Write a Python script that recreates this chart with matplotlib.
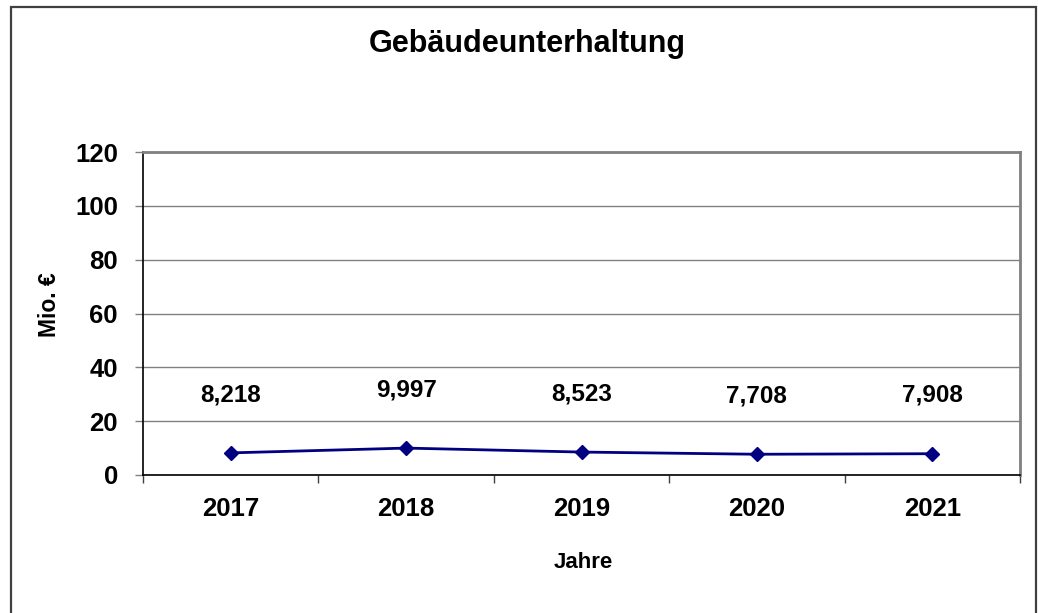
import matplotlib.pyplot as plt
from matplotlib.patches import Rectangle

# data
jahre = ['2017', '2018', '2019', '2020', '2021']
werte = [8.218, 9.997, 8.523, 7.708, 7.908]
werte_text = ['8,218', '9,997', '8,523', '7,708', '7,908']
y_ticks = [0, 20, 40, 60, 80, 100, 120]

plt.rcParams['font.family'] = ['Liberation Sans', 'DejaVu Sans']
plt.rcParams['font.weight'] = 'bold'

W, H = 1038, 613
fig = plt.figure(figsize=(W / 100, H / 100), dpi=100)
ax = fig.add_axes([143 / W, 1 - 475 / H, (1020 - 143) / W, (475 - 152) / H])

# outer frame of the chart
fig.patches.append(Rectangle((11 / W, -0.05), (1036 - 11) / W, 1 - 7 / H + 0.05,
                             transform=fig.transFigure, fill=False,
                             edgecolor='#404040', linewidth=1.6))

x = list(range(len(jahre)))
ax.plot(x, werte, color='#000080', linewidth=2, marker='D', markersize=7,
        markerfacecolor='#000080', markeredgecolor='#000080', zorder=3)

for xi, v, t in zip(x, werte, werte_text):
    ax.annotate(t, (xi, v), xytext=(0, 42), textcoords='offset points',
                ha='center', va='center', fontsize=17.5, fontweight='bold')

ax.set_xlim(-0.5, len(jahre) - 0.5)
ax.set_ylim(0, 120)
ax.set_yticks(y_ticks)
ax.set_yticklabels([str(v) for v in y_ticks], fontsize=18.5, fontweight='bold')
ax.tick_params(axis='y', length=6, width=1, color='#808080', pad=12)

ax.set_xticks([i - 0.5 for i in range(len(jahre) + 1)])
ax.set_xticklabels([])
ax.set_xticks(x, minor=True)
ax.set_xticklabels(jahre, minor=True, fontsize=18.5, fontweight='bold')
ax.tick_params(axis='x', which='major', length=6, width=1, color='#404040')
ax.tick_params(axis='x', which='minor', length=0, pad=16)

ax.grid(axis='y', color='#808080', linewidth=1)
ax.set_axisbelow(True)
for s in ['top', 'right']:
    ax.spines[s].set_color('#808080')
    ax.spines[s].set_linewidth(2)
for s in ['left', 'bottom']:
    ax.spines[s].set_color('black')
    ax.spines[s].set_linewidth(1.2)

fig.text(527 / W, 1 - 44 / H, 'Gebäudeunterhaltung', ha='center', va='center',
         fontsize=22, fontweight='bold')
fig.text(583 / W, 1 - 563 / H, 'Jahre', ha='center', va='center',
         fontsize=16, fontweight='bold')
fig.text(49 / W, 1 - 305 / H, 'Mio. €', ha='center', va='center',
         rotation=90, fontsize=16.5, fontweight='bold')

fig.savefig('out.png', dpi=100)
